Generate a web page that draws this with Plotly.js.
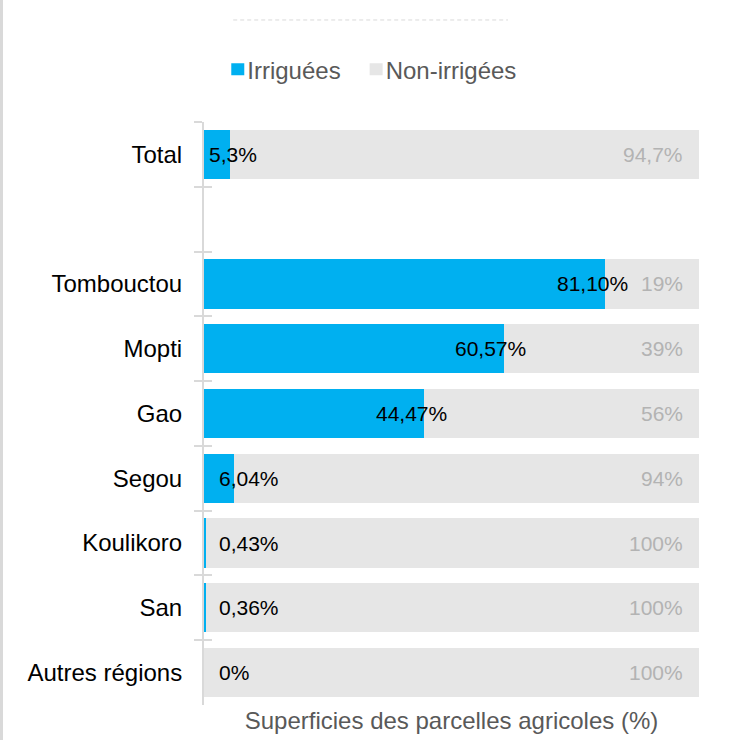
<!DOCTYPE html>
<html>
<head>
<meta charset="utf-8">
<script src="https://cdn.plot.ly/plotly-3.0.1.min.js"></script>
<style>
  html, body { margin: 0; padding: 0; background: #fff; }
  #chart { width: 732px; height: 740px; }
  #edge { position: absolute; left: 0; top: 0; width: 3px; height: 740px; background: #d9d9d9; z-index: 10; }
</style>
</head>
<body>
<div id="chart"></div>
<div id="edge"></div>
<script>
// ---- data ----
const categories = ["Total", " ", "Tombouctou", "Mopti", "Gao", "Segou", "Koulikoro", "San", "Autres régions"];
const irrigated = [5.3, null, 81.10, 60.57, 44.47, 6.04, 0.43, 0.36, 0];
const nonIrrigated = [94.7, null, 18.9, 39.43, 55.53, 93.96, 99.57, 99.64, 100];
const irrLabels = ["5,3%", "", "81,10%", "60,57%", "44,47%", "6,04%", "0,43%", "0,36%", "0%"];
const nonLabels = ["94,7%", "", "19%", "39%", "56%", "94%", "100%", "100%", "100%"];
const seriesNames = ["Irriguées", "Non-irrigées"];
const axisTitle = "Superficies des parcelles agricoles (%)";

const FONT = "Liberation Sans, Arial, sans-serif";
const BLUE = "#00b0f0";
const GREY = "#e6e6e6";
const AXIS = "#d9d9d9";

const traces = [
  {
    type: "bar", orientation: "h", name: seriesNames[0],
    y: categories, x: irrigated,
    marker: { color: BLUE }, hoverinfo: "skip"
  },
  {
    type: "bar", orientation: "h", name: seriesNames[1],
    y: categories, x: nonIrrigated,
    marker: { color: GREY }, hoverinfo: "skip"
  },
  {
    type: "scatter", mode: "markers", yaxis: "y2",
    y: categories, x: irrigated.map(v => v === null ? null : 0),
    marker: { size: 1, opacity: 0 }, showlegend: false, hoverinfo: "skip"
  }
];

const annotations = [];
categories.forEach((c, i) => {
  if (irrigated[i] === null) return;
  const v = irrigated[i];
  if (v >= 20) {
    annotations.push({ x: v, y: c, xref: "x", yref: "y", text: irrLabels[i], showarrow: false,
      xanchor: "center", xshift: -13, font: { family: FONT, size: 21, color: "#000" } });
  } else {
    annotations.push({ x: 0, y: c, xref: "x", yref: "y", text: irrLabels[i], showarrow: false,
      xanchor: "left", xshift: i === 0 ? 3 : 13, font: { family: FONT, size: 21, color: "#000" } });
  }
  annotations.push({ x: 100, y: c, xref: "x", yref: "y", text: nonLabels[i], showarrow: false,
    xanchor: "right", xshift: -14, font: { family: FONT, size: 21, color: "#b3b3b3" } });
});

const layout = {
  width: 732, height: 740,
  margin: { l: 204, r: 33, t: 122, b: 35, autoexpand: false },
  paper_bgcolor: "#fff", plot_bgcolor: "#fff",
  barmode: "stack", bargap: 0.24,
  font: { family: FONT, color: "#000" },
  showlegend: true,
  legend: {
    orientation: "h", x: 0.345, xanchor: "center", y: 1.09, yanchor: "middle",
    font: { family: FONT, size: 24, color: "#595959" },
    itemwidth: 30, traceorder: "normal"
  },
  xaxis: {
    range: [0, 100], showgrid: false, zeroline: false, showline: false,
    showticklabels: false, ticks: "", fixedrange: true,
    title: { text: axisTitle, standoff: 7, font: { family: FONT, size: 24, color: "#595959" } }
  },
  yaxis: {
    type: "category", categoryarray: categories, categoryorder: "array",
    autorange: "reversed", showgrid: false, zeroline: false,
    showline: true, linecolor: AXIS, linewidth: 2,
    ticks: "outside", tickson: "boundaries", ticklen: 8, tickcolor: AXIS, tickwidth: 2,
    ticklabelstandoff: 15,
    tickfont: { family: FONT, size: 24, color: "#000" }
  },
  yaxis2: {
    type: "category", categoryarray: categories, categoryorder: "array",
    overlaying: "y", matches: "y", side: "left",
    showgrid: false, zeroline: false, showline: false,
    ticks: "inside", tickson: "boundaries", ticklen: 8, tickcolor: AXIS, tickwidth: 2,
    showticklabels: false
  },
  shapes: [
    { type: "line", xref: "paper", yref: "paper", x0: 0.059, x1: 0.614, y0: 1.175, y1: 1.175,
      line: { color: "#d9d9d9", width: 1, dash: "4px,3px" } }
  ],
  annotations: annotations
};

Plotly.newPlot("chart", traces, layout, { displayModeBar: false, staticPlot: true }).then(gd => {
  // tighten legend: symbol closer to its text, like the reference
  gd.querySelectorAll(".legend .traces").forEach(g => {
    const t = g.querySelector("text.legendtext");
    if (t) t.setAttribute("x", parseFloat(t.getAttribute("x")) - 10);
    const p = g.querySelector(".legendpoints path");
    if (p) p.setAttribute("d", "M7,6H-6V-6H7Z");
  });
});
</script>
</body>
</html>
